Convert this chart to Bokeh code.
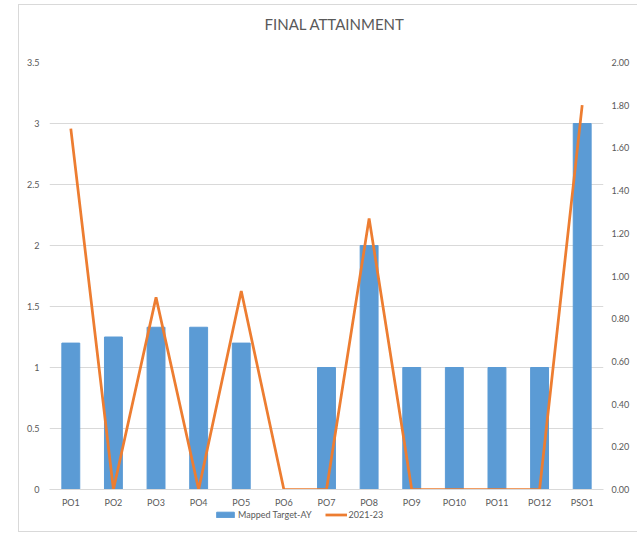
from bokeh.plotting import figure
from bokeh.layouts import column
from bokeh.models import (FactorRange, Range1d, LinearAxis, FixedTicker, Legend,
                          LegendItem, NumeralTickFormatter, Title, InlineStyleSheet)
from bokeh.embed import file_html
from bokeh.resources import INLINE

categories = ["PO1", "PO2", "PO3", "PO4", "PO5", "PO6", "PO7", "PO8", "PO9",
              "PO10", "PO11", "PO12", "PSO1"]
mapped_target = [1.2, 1.25, 1.33, 1.33, 1.2, 0, 1, 2, 1, 1, 1, 1, 3]
attainment_2021_23 = [1.69, 0, 0.90, 0, 0.93, 0, 0, 1.27, 0, 0, 0, 0, 1.80]
left_ticks = [0, 0.5, 1, 1.5, 2, 2.5, 3, 3.5]
left_tick_labels = ["0", "0.5", "1", "1.5", "2", "2.5", "3", "3.5"]
right_ticks = [0, 0.2, 0.4, 0.6, 0.8, 1.0, 1.2, 1.4, 1.6, 1.8, 2.0]

FONT = "Lato"
GRAY = "#595959"
GRID = "#d9d9d9"
BLUE = "#5B9BD5"
ORANGE = "#ED7D31"
TICK_SIZE = "9px"

p = figure(width=637, height=510,
           x_range=FactorRange(*categories, range_padding=0),
           y_range=Range1d(0, 3.5),
           output_backend="svg", toolbar_location=None,
           min_border_left=49, min_border_right=34,
           min_border_top=62, min_border_bottom=20)
p.title = None
p.extra_y_ranges = {"y2": Range1d(0, 2)}
p.outline_line_color = None

# spacer panel (closest to the frame) then the chart title
p.add_layout(Title(text=" ", text_font=FONT, text_font_size="10px",
                   standoff=16), "above")
p.add_layout(Title(text="FINAL ATTAINMENT", align="left", offset=215,
                   standoff=0, text_font=FONT, text_font_style="normal",
                   text_font_size="15px", text_color=GRAY), "above")

bars = p.vbar(x=categories, top=mapped_target, width=0.42,
              fill_color=BLUE, line_color=BLUE)
line = p.line(x=categories, y=attainment_2021_23, y_range_name="y2",
              line_color=ORANGE, line_width=2.75)


def style_axis(ax, standoff):
    ax.axis_line_color = None
    ax.major_tick_line_color = None
    ax.minor_tick_line_color = None
    ax.major_tick_out = 0
    ax.major_tick_in = 0
    ax.minor_tick_out = 0
    ax.minor_tick_in = 0
    ax.major_label_standoff = standoff
    ax.major_label_text_font = FONT
    ax.major_label_text_font_size = TICK_SIZE
    ax.major_label_text_color = GRAY


ya = p.yaxis[0]
ya.ticker = FixedTicker(ticks=left_ticks)
ya.major_label_overrides = {t: l for t, l in zip(left_ticks, left_tick_labels)}
style_axis(ya, 10)

ra = LinearAxis(y_range_name="y2", ticker=FixedTicker(ticks=right_ticks),
                formatter=NumeralTickFormatter(format="0.00"))
style_axis(ra, 8)
p.add_layout(ra, "right")

xa = p.xaxis[0]
style_axis(xa, 7)
xa.axis_line_color = GRID

p.xgrid.grid_line_color = None
p.ygrid.ticker = FixedTicker(ticks=left_ticks)
p.ygrid.grid_line_color = GRID

# legend strip below the chart
lf = figure(width=637, height=20, x_range=Range1d(0, 1), y_range=Range1d(0, 1),
            output_backend="svg", toolbar_location=None, min_border=0,
            x_axis_type=None, y_axis_type=None)
lf.outline_line_color = None
lf.grid.visible = False
lb = lf.vbar(x=[0.5], top=[-10], bottom=[-11], width=0.1,
             fill_color=BLUE, line_color=BLUE)
ll = lf.line(x=[0.2, 0.8], y=[-10, -10], line_color=ORANGE, line_width=2.75)
legend = Legend(items=[LegendItem(label="Mapped Target-AY", renderers=[lb]),
                       LegendItem(label="2021-23", renderers=[ll])],
                orientation="horizontal", location=(165, 10),
                glyph_width=22, glyph_height=7, label_height=10,
                label_standoff=2, spacing=13, padding=0, margin=0,
                label_text_font=FONT, label_text_font_size=TICK_SIZE,
                label_text_color=GRAY, border_line_color=None,
                background_fill_alpha=0)
lf.add_layout(legend, "center")

frame_css = InlineStyleSheet(css=""":host::after {
  content: ''; position: absolute; left: 18px; top: 4px;
  width: 660px; height: 528px; box-sizing: border-box;
  border: 1px solid #d9d9d9; pointer-events: none; }""")

layout = column(p, lf, spacing=0, stylesheets=[frame_css])
open("out.html", "w").write(file_html(layout, INLINE))
